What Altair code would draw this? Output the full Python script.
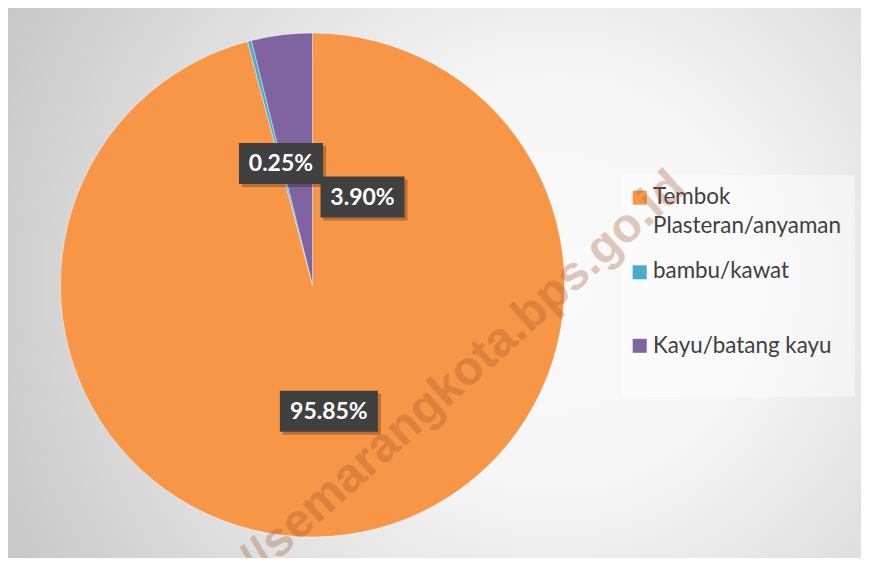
import math
import altair as alt
import pandas as pd

# ---------------- data ----------------
categories = ["Tembok Plasteran/anyaman", "bambu/kawat", "Kayu/batang kayu"]
shares = [95.85, 0.25, 3.90]
label_texts = ["95.85%", "0.25%", "3.90%"]
legend_lines = [["Tembok", "Plasteran/anyaman"], ["bambu/kawat"], ["Kayu/batang kayu"]]
colors = ["#F79646", "#4BACC6", "#8064A2"]
watermark_text = ["http://semarangkota.bps.go.id"]

# ---------------- layout ----------------
W, H = 853, 550
CX, CY, R = 304.5, 277.0, 252.0
FIRST_SLICE_DEG = 0.0
A0 = math.radians(FIRST_SLICE_DEG)
LABEL_R = 0.5
label_nudges = [(0.0, 1.3), (0.0, 0.4), (65.4, 37.1)]
BOX_H = 41
shadow_radii = [R + k for k in range(1, 14)]

# legend layout
LEG_BOX = (614, 167, 847, 389)
leg_sym_x = 631.7
leg_sym_y = [189.7, 264.3, 337.8]
leg_text_x = 645
leg_line_baselines = [[196.3, 225.3], [270.0], [344.7]]

# ---------------- tables ----------------
total = sum(shares)
pie_df = pd.DataFrame({"cat": categories, "share": shares, "ord": list(range(len(categories)))})

rows = []
cum = 0.0
for i, (c, s, t) in enumerate(zip(categories, shares, label_texts)):
    mid = A0 + 2 * math.pi * (cum + s / 2) / total
    cum += s
    px = CX + LABEL_R * R * math.sin(mid) + label_nudges[i][0]
    py = CY - LABEL_R * R * math.cos(mid) + label_nudges[i][1]
    w = 14 * len(t) + 14
    rows.append({"t": t, "px": px, "py": py + 1,
                 "x1": px - w / 2, "x2": px + w / 2,
                 "y1": py - BOX_H / 2, "y2": py + BOX_H / 2,
                 "sx1": px - w / 2 + 3, "sx2": px + w / 2 + 3,
                 "sy1": py - BOX_H / 2 + 3, "sy2": py + BOX_H / 2 + 3})
lab_df = pd.DataFrame(rows)

leg_sym_df = pd.DataFrame({"cat": categories, "x": [leg_sym_x] * 3, "y": leg_sym_y})
leg_txt_rows = []
for lines, bases in zip(legend_lines, leg_line_baselines):
    for ln, b in zip(lines, bases):
        leg_txt_rows.append({"t": ln, "x": leg_text_x, "y": b})
leg_txt_df = pd.DataFrame(leg_txt_rows)

ring_df = pd.DataFrame({"r": shadow_radii})
one = pd.DataFrame({"t": watermark_text})

# ---------------- layers ----------------
bg = alt.Chart(one).mark_rect(
    fill={"gradient": "radial", "x1": 0.64, "y1": 0.5, "r1": 0.0,
          "x2": 0.64, "y2": 0.5, "r2": 0.8,
          "stops": [{"offset": 0, "color": "#ffffff"},
                    {"offset": 0.3, "color": "#fbfbfb"},
                    {"offset": 1, "color": "#c4c4c4"}]}
).encode(x=alt.value(0), x2=alt.value(W), y=alt.value(0), y2=alt.value(H))

rings = alt.Chart(ring_df).mark_arc(fill="#000000", opacity=0.02).encode(
    theta=alt.value(0), theta2=alt.value(2 * math.pi),
    radius=alt.Radius("r:Q", scale=None),
    x=alt.value(CX), y=alt.value(CY),
)

pie = alt.Chart(pie_df).mark_arc(radius=R, stroke="#ffffff", strokeWidth=0.4).encode(
    theta=alt.Theta("share:Q", stack=True,
                    scale=alt.Scale(domain=[0, total], range=[A0, A0 + 2 * math.pi])),
    color=alt.Color("cat:N", scale=alt.Scale(domain=categories, range=colors), legend=None),
    order=alt.Order("ord:Q"),
    x=alt.value(CX), y=alt.value(CY),
)

box_shadow = alt.Chart(lab_df).mark_rect(color="#000000", opacity=0.25).encode(
    x=alt.X("sx1:Q", scale=None, axis=None), x2="sx2:Q",
    y=alt.Y("sy1:Q", scale=None, axis=None), y2="sy2:Q",
)
boxes = alt.Chart(lab_df).mark_rect(color="#404040").encode(
    x=alt.X("x1:Q", scale=None, axis=None), x2="x2:Q",
    y=alt.Y("y1:Q", scale=None, axis=None), y2="y2:Q",
)
labels = alt.Chart(lab_df).mark_text(
    font="Lato", fontWeight="bold", fontSize=23, color="#ffffff",
    align="center", baseline="middle"
).encode(
    x=alt.X("px:Q", scale=None, axis=None),
    y=alt.Y("py:Q", scale=None, axis=None),
    text="t:N",
)

leg_bg = alt.Chart(one).mark_rect(fill="#ffffff", opacity=0.45).encode(
    x=alt.value(LEG_BOX[0]), x2=alt.value(LEG_BOX[2]),
    y=alt.value(LEG_BOX[1]), y2=alt.value(LEG_BOX[3]),
)
leg_sym = alt.Chart(leg_sym_df).mark_point(shape="square", filled=True, size=196, opacity=1).encode(
    x=alt.X("x:Q", scale=None, axis=None),
    y=alt.Y("y:Q", scale=None, axis=None),
    color=alt.Color("cat:N", scale=alt.Scale(domain=categories, range=colors), legend=None),
)
leg_txt = alt.Chart(leg_txt_df).mark_text(
    font="Lato", fontSize=22.4, color="#404040", align="left", baseline="alphabetic"
).encode(
    x=alt.X("x:Q", scale=None, axis=None),
    y=alt.Y("y:Q", scale=None, axis=None),
    text="t:N",
)

wm = alt.Chart(one).mark_text(
    font="Liberation Sans", fontWeight="bold", fontSize=48, angle=318,
    align="right", baseline="alphabetic", color="#a0522d", opacity=0.3
).encode(x=alt.value(680), y=alt.value(183), text="t:N")

chart = alt.layer(bg, rings, pie, box_shadow, boxes, labels, leg_bg, leg_sym, leg_txt, wm).properties(
    width=W, height=H, autosize=alt.AutoSizeParams(type="none"), padding=0
).configure_view(stroke=None)

chart.save("out.html", embed_options={"renderer": "svg", "actions": False})
